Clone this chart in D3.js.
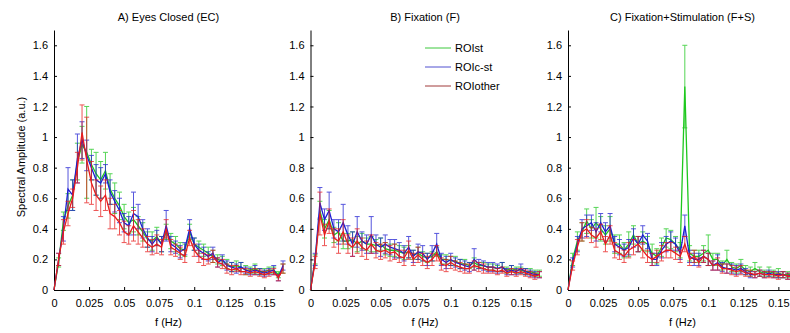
<!DOCTYPE html>
<html>
<head>
<meta charset="utf-8">
<script src="https://cdn.jsdelivr.net/npm/d3@7"></script>
<style>
  body { margin: 0; background: #fff; }
  svg { display: block; font-family: "Liberation Sans", Arial, sans-serif; }
</style>
</head>
<body>
<div id="chart"></div>
<script>
// frequency bins (Hz), step 1/300
const freqs = [0, 0.0033, 0.0067, 0.01, 0.0133, 0.0167, 0.02, 0.0233, 0.0267, 0.03,
  0.0333, 0.0367, 0.04, 0.0433, 0.0467, 0.05, 0.0533, 0.0567, 0.06, 0.0633,
  0.0667, 0.07, 0.0733, 0.0767, 0.08, 0.0833, 0.0867, 0.09, 0.0933, 0.0967,
  0.1, 0.1033, 0.1067, 0.11, 0.1133, 0.1167, 0.12, 0.1233, 0.1267, 0.13,
  0.1333, 0.1367, 0.14, 0.1433, 0.1467, 0.15, 0.1533, 0.1567, 0.16, 0.1633];

const xTicks = [0, 0.025, 0.05, 0.075, 0.1, 0.125, 0.15];
const yTicks = [0, 0.2, 0.4, 0.6, 0.8, 1, 1.2, 1.4, 1.6];

const seriesNames = ['ROIst', 'ROIc-st', 'ROIother'];
const panelTitles = ['A) Eyes Closed (EC)', 'B) Fixation (F)', 'C) Fixation+Stimulation (F+S)'];

// A) Eyes Closed
const ecSt = [0, 0.18, 0.45, 0.55, 0.62, 0.84, 0.95, 0.9, 0.82, 0.76, 0.72, 0.78, 0.66, 0.6, 0.55, 0.48, 0.44, 0.46, 0.42, 0.38,
  0.33, 0.32, 0.35, 0.3, 0.38, 0.32, 0.3, 0.27, 0.26, 0.38, 0.3, 0.28, 0.26, 0.24, 0.22, 0.2, 0.19, 0.17, 0.15, 0.16,
  0.15, 0.13, 0.13, 0.14, 0.12, 0.12, 0.13, 0.13, 0.1, 0.14];
const ecCst = [0, 0.2, 0.4, 0.66, 0.62, 0.86, 0.98, 0.88, 0.8, 0.72, 0.7, 0.76, 0.64, 0.58, 0.52, 0.44, 0.42, 0.5, 0.48, 0.4,
  0.34, 0.3, 0.34, 0.3, 0.42, 0.3, 0.28, 0.25, 0.27, 0.4, 0.3, 0.26, 0.24, 0.22, 0.24, 0.18, 0.2, 0.16, 0.15, 0.14,
  0.15, 0.13, 0.12, 0.13, 0.12, 0.11, 0.12, 0.13, 0.08, 0.16];
const ecOther = [0, 0.2, 0.38, 0.5, 0.6, 0.8, 1.03, 0.85, 0.7, 0.62, 0.58, 0.62, 0.5, 0.48, 0.44, 0.38, 0.36, 0.42, 0.38, 0.34,
  0.3, 0.28, 0.3, 0.28, 0.4, 0.28, 0.26, 0.24, 0.22, 0.34, 0.26, 0.22, 0.2, 0.2, 0.22, 0.18, 0.17, 0.14, 0.13, 0.14,
  0.12, 0.12, 0.11, 0.12, 0.11, 0.1, 0.11, 0.12, 0.08, 0.14];
const ecStErr = [0, 0.03, 0.06, 0.08, 0.1, 0.12, 0.12, 0.3, 0.1, 0.14, 0.12, 0.12, 0.1, 0.1, 0.09, 0.08, 0.07, 0.08, 0.06, 0.06,
  0.05, 0.06, 0.06, 0.05, 0.05, 0.05, 0.05, 0.04, 0.04, 0.05, 0.04, 0.04, 0.04, 0.04, 0.04, 0.03, 0.03, 0.03, 0.03, 0.03,
  0.03, 0.03, 0.02, 0.03, 0.02, 0.02, 0.02, 0.02, 0.02, 0.03];
const ecCstErr = [0, 0.04, 0.08, 0.14, 0.1, 0.16, 0.12, 0.1, 0.08, 0.1, 0.1, 0.06, 0.08, 0.07, 0.08, 0.06, 0.06, 0.14, 0.08, 0.06,
  0.06, 0.05, 0.05, 0.05, 0.1, 0.05, 0.04, 0.04, 0.04, 0.06, 0.04, 0.04, 0.04, 0.03, 0.04, 0.03, 0.03, 0.03, 0.03, 0.03,
  0.03, 0.02, 0.02, 0.03, 0.02, 0.02, 0.02, 0.03, 0.02, 0.03];
const ecOtherErr = [0, 0.04, 0.08, 0.08, 0.06, 0.1, 0.18, 0.28, 0.14, 0.1, 0.1, 0.1, 0.1, 0.08, 0.08, 0.07, 0.06, 0.1, 0.08, 0.06,
  0.05, 0.05, 0.06, 0.05, 0.06, 0.05, 0.04, 0.04, 0.04, 0.05, 0.04, 0.04, 0.04, 0.03, 0.04, 0.03, 0.03, 0.03, 0.03, 0.02,
  0.02, 0.02, 0.02, 0.02, 0.02, 0.02, 0.02, 0.02, 0.02, 0.03];

// B) Fixation
const fxSt = [0, 0.2, 0.52, 0.4, 0.46, 0.36, 0.38, 0.32, 0.32, 0.33, 0.3, 0.32, 0.3, 0.3, 0.29, 0.3, 0.27, 0.26, 0.26, 0.25,
  0.24, 0.25, 0.23, 0.24, 0.22, 0.21, 0.22, 0.25, 0.2, 0.2, 0.19, 0.19, 0.17, 0.17, 0.16, 0.18, 0.16, 0.16, 0.15, 0.15,
  0.14, 0.15, 0.13, 0.14, 0.13, 0.13, 0.12, 0.12, 0.11, 0.11];
const fxCst = [0, 0.2, 0.57, 0.46, 0.52, 0.4, 0.38, 0.44, 0.36, 0.3, 0.38, 0.32, 0.3, 0.36, 0.3, 0.28, 0.3, 0.28, 0.27, 0.26,
  0.24, 0.28, 0.22, 0.25, 0.24, 0.2, 0.24, 0.3, 0.2, 0.18, 0.2, 0.18, 0.17, 0.16, 0.15, 0.2, 0.17, 0.16, 0.15, 0.15,
  0.14, 0.15, 0.12, 0.13, 0.12, 0.14, 0.12, 0.11, 0.1, 0.1];
const fxOther = [0, 0.18, 0.5, 0.36, 0.45, 0.34, 0.32, 0.38, 0.3, 0.28, 0.32, 0.28, 0.26, 0.3, 0.26, 0.25, 0.26, 0.24, 0.25, 0.22,
  0.21, 0.26, 0.2, 0.23, 0.2, 0.18, 0.2, 0.24, 0.17, 0.16, 0.18, 0.16, 0.15, 0.14, 0.14, 0.16, 0.15, 0.14, 0.13, 0.13,
  0.12, 0.13, 0.11, 0.12, 0.11, 0.12, 0.11, 0.1, 0.09, 0.1];
const fxStErr = [0, 0.03, 0.06, 0.06, 0.06, 0.05, 0.06, 0.05, 0.05, 0.05, 0.05, 0.05, 0.04, 0.05, 0.04, 0.04, 0.04, 0.04, 0.04, 0.04,
  0.04, 0.04, 0.03, 0.04, 0.03, 0.03, 0.03, 0.03, 0.03, 0.03, 0.03, 0.03, 0.03, 0.03, 0.02, 0.03, 0.02, 0.02, 0.02, 0.02,
  0.02, 0.03, 0.02, 0.02, 0.02, 0.02, 0.02, 0.02, 0.02, 0.02];
const fxCstErr = [0, 0.04, 0.1, 0.07, 0.12, 0.06, 0.08, 0.12, 0.06, 0.08, 0.1, 0.06, 0.06, 0.12, 0.06, 0.06, 0.06, 0.05, 0.06, 0.05,
  0.05, 0.07, 0.04, 0.05, 0.05, 0.04, 0.05, 0.07, 0.04, 0.04, 0.04, 0.03, 0.03, 0.03, 0.03, 0.07, 0.03, 0.03, 0.03, 0.03,
  0.03, 0.03, 0.02, 0.03, 0.02, 0.03, 0.02, 0.02, 0.02, 0.02];
const fxOtherErr = [0, 0.04, 0.14, 0.07, 0.08, 0.06, 0.08, 0.08, 0.06, 0.06, 0.08, 0.06, 0.06, 0.06, 0.05, 0.05, 0.05, 0.05, 0.05, 0.04,
  0.05, 0.06, 0.04, 0.05, 0.04, 0.04, 0.04, 0.05, 0.04, 0.04, 0.04, 0.03, 0.03, 0.03, 0.03, 0.03, 0.03, 0.03, 0.02, 0.02,
  0.02, 0.02, 0.02, 0.02, 0.02, 0.02, 0.02, 0.02, 0.02, 0.02];

// C) Fixation+Stimulation
const fsSt = [0, 0.2, 0.32, 0.38, 0.45, 0.4, 0.44, 0.4, 0.36, 0.4, 0.3, 0.3, 0.26, 0.3, 0.36, 0.3, 0.32, 0.3, 0.24, 0.22,
  0.28, 0.34, 0.33, 0.3, 0.26, 1.33, 0.24, 0.22, 0.22, 0.24, 0.26, 0.2, 0.2, 0.16, 0.2, 0.15, 0.14, 0.16, 0.13, 0.12,
  0.14, 0.12, 0.11, 0.12, 0.11, 0.11, 0.1, 0.1, 0.1, 0.1];
const fsCst = [0, 0.18, 0.3, 0.4, 0.42, 0.44, 0.38, 0.44, 0.38, 0.42, 0.3, 0.28, 0.26, 0.28, 0.34, 0.3, 0.36, 0.32, 0.2, 0.2,
  0.26, 0.3, 0.32, 0.3, 0.24, 0.42, 0.22, 0.2, 0.2, 0.22, 0.2, 0.16, 0.18, 0.15, 0.14, 0.14, 0.13, 0.14, 0.12, 0.1,
  0.1, 0.11, 0.1, 0.11, 0.1, 0.1, 0.1, 0.09, 0.1, 0.1];
const fsOther = [0, 0.16, 0.28, 0.38, 0.4, 0.36, 0.34, 0.38, 0.3, 0.36, 0.26, 0.24, 0.22, 0.26, 0.28, 0.3, 0.26, 0.22, 0.2, 0.22,
  0.24, 0.26, 0.26, 0.24, 0.22, 0.3, 0.2, 0.22, 0.18, 0.22, 0.2, 0.16, 0.17, 0.14, 0.14, 0.13, 0.12, 0.13, 0.11, 0.11,
  0.1, 0.11, 0.1, 0.1, 0.1, 0.09, 0.1, 0.09, 0.09, 0.09];
const fsStErr = [0, 0.04, 0.06, 0.06, 0.08, 0.06, 0.1, 0.08, 0.06, 0.08, 0.06, 0.06, 0.05, 0.08, 0.06, 0.05, 0.06, 0.05, 0.06, 0.05,
  0.06, 0.06, 0.06, 0.05, 0.05, 0.27, 0.05, 0.04, 0.04, 0.05, 0.1, 0.04, 0.04, 0.03, 0.06, 0.03, 0.03, 0.04, 0.03, 0.03,
  0.04, 0.03, 0.02, 0.03, 0.02, 0.03, 0.02, 0.02, 0.02, 0.02];
const fsCstErr = [0, 0.03, 0.05, 0.06, 0.07, 0.05, 0.06, 0.06, 0.06, 0.08, 0.05, 0.05, 0.04, 0.05, 0.06, 0.05, 0.06, 0.05, 0.04, 0.04,
  0.05, 0.05, 0.06, 0.04, 0.04, 0.07, 0.04, 0.04, 0.04, 0.04, 0.04, 0.03, 0.05, 0.03, 0.03, 0.03, 0.03, 0.03, 0.02, 0.02,
  0.02, 0.02, 0.02, 0.02, 0.02, 0.02, 0.02, 0.02, 0.02, 0.02];
const fsOtherErr = [0, 0.03, 0.05, 0.06, 0.06, 0.05, 0.06, 0.05, 0.05, 0.06, 0.05, 0.04, 0.04, 0.05, 0.05, 0.05, 0.05, 0.04, 0.04, 0.04,
  0.05, 0.05, 0.05, 0.04, 0.04, 0.05, 0.04, 0.04, 0.03, 0.04, 0.04, 0.03, 0.04, 0.03, 0.03, 0.03, 0.03, 0.03, 0.02, 0.02,
  0.02, 0.02, 0.02, 0.02, 0.02, 0.02, 0.02, 0.02, 0.02, 0.02];

const panels = [
  { title: panelTitles[0], values: [ecSt, ecCst, ecOther], errors: [ecStErr, ecCstErr, ecOtherErr] },
  { title: panelTitles[1], values: [fxSt, fxCst, fxOther], errors: [fxStErr, fxCstErr, fxOtherErr] },
  { title: panelTitles[2], values: [fsSt, fsCst, fsOther], errors: [fsStErr, fsCstErr, fsOtherErr] }
];

const colors = ['#1ec81e', '#1e1ed2', '#e81c1c'];
const legendColors = ['#3cc83c', '#5050d0', '#a03a3a'];

const W = 790, H = 333;
const panelLeft = [54, 310.5, 568];
const panelWidth = 229;
const plotTop = 30, plotBottom = 290;

const svg = d3.select('#chart').append('svg')
  .attr('width', W)
  .attr('height', H);

const yScale = d3.scaleLinear().domain([0, 1.7]).range([plotBottom, plotTop]);

panels.forEach((p, pi) => {
  const x0 = panelLeft[pi];
  const xScale = d3.scaleLinear().domain([0, freqs[freqs.length - 1]]).range([0, panelWidth]);

  const g = svg.append('g').attr('transform', `translate(${x0},0)`);

  // title
  g.append('text')
    .attr('x', panelWidth / 2)
    .attr('y', 21)
    .attr('text-anchor', 'middle')
    .style('font-size', '11px')
    .text(p.title);

  // x axis (ticks inward)
  const xAxis = g.append('g')
    .attr('transform', `translate(0,${plotBottom})`)
    .call(d3.axisBottom(xScale).tickValues(xTicks).tickSize(-3).tickSizeOuter(0)
      .tickFormat(d => String(d)));
  xAxis.selectAll('text').attr('y', 9).style('font-size', '11px').style('font-family', '"Liberation Sans", Arial, sans-serif');

  // y axis (ticks inward)
  const yAxis = g.append('g')
    .call(d3.axisLeft(yScale).tickValues(yTicks).tickSize(-3).tickSizeOuter(0)
      .tickFormat(d => String(d)));
  yAxis.selectAll('text').attr('x', -6).style('font-size', '11px').style('font-family', '"Liberation Sans", Arial, sans-serif');

  g.selectAll('.domain').attr('stroke', '#000');

  const line = d3.line()
    .x((d, i) => xScale(freqs[i]))
    .y(d => yScale(d));

  p.values.forEach((vals, si) => {
    const errs = p.errors[si];
    const sg = g.append('g');

    // error bars
    const eb = sg.append('g')
      .attr('stroke', colors[si])
      .attr('stroke-width', 1)
      .attr('opacity', 0.75)
      .selectAll('g')
      .data(vals.map((v, i) => ({ f: freqs[i], v, e: errs[i] })).filter(d => d.e > 0))
      .join('g');
    eb.append('line')
      .attr('x1', d => xScale(d.f)).attr('x2', d => xScale(d.f))
      .attr('y1', d => yScale(d.v - d.e)).attr('y2', d => yScale(d.v + d.e));
    eb.append('line')
      .attr('x1', d => xScale(d.f) - 2.5).attr('x2', d => xScale(d.f) + 2.5)
      .attr('y1', d => yScale(d.v + d.e)).attr('y2', d => yScale(d.v + d.e));
    eb.append('line')
      .attr('x1', d => xScale(d.f) - 2.5).attr('x2', d => xScale(d.f) + 2.5)
      .attr('y1', d => yScale(d.v - d.e)).attr('y2', d => yScale(d.v - d.e));

    sg.append('path')
      .datum(vals)
      .attr('fill', 'none')
      .attr('stroke', colors[si])
      .attr('stroke-width', 1.3)
      .attr('d', line);
  });

  // x label
  g.append('text')
    .attr('x', panelWidth / 2)
    .attr('y', 326)
    .attr('text-anchor', 'middle')
    .style('font-size', '11px')
    .text('f (Hz)');
});

// y label
svg.append('text')
  .attr('transform', 'translate(25,157) rotate(-90)')
  .attr('text-anchor', 'middle')
  .style('font-size', '11px')
  .text('Spectral Amplitude (a.u.)');

// legend in panel B
const legend = svg.append('g').attr('transform', 'translate(425,48)');
seriesNames.forEach((name, i) => {
  const row = legend.append('g').attr('transform', `translate(0,${i * 19})`);
  row.append('line')
    .attr('x1', 0).attr('x2', 26)
    .attr('stroke', legendColors[i])
    .attr('stroke-width', 1);
  row.append('text')
    .attr('x', 30)
    .attr('y', 4)
    .style('font-size', '11px')
    .text(name);
});
</script>
</body>
</html>
